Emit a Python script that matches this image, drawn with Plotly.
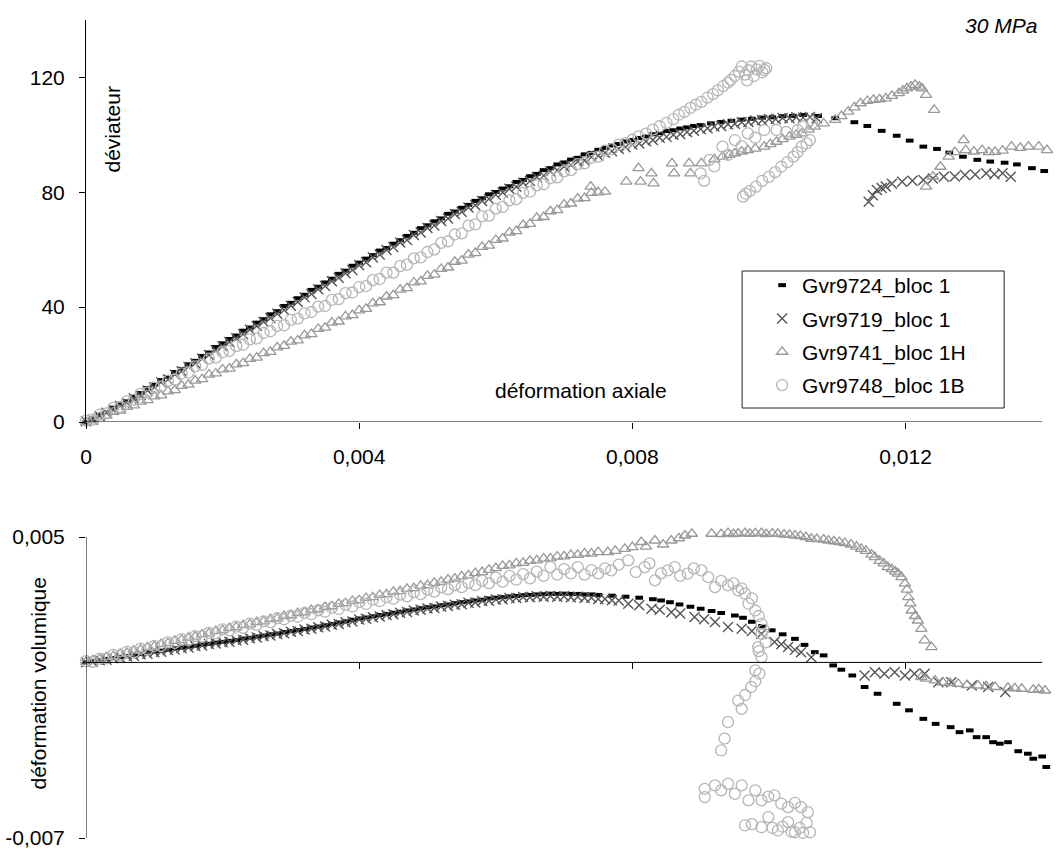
import plotly.graph_objects as go

# ---------------- data (axial / volumetric strain stored in per-mille, converted below) ----------
axial_grid = [0.0, 0.1, 0.2, 0.3, 0.4, 0.5, 0.6, 0.7, 0.8, 0.9,
              1.0, 1.1, 1.2, 1.3, 1.4, 1.5, 1.6, 1.7, 1.8, 1.9,
              2.0, 2.1, 2.2, 2.3, 2.4, 2.5, 2.6, 2.7, 2.8, 2.9,
              3.0, 3.1, 3.2, 3.3, 3.4, 3.5, 3.6, 3.7, 3.8, 3.9,
              4.0, 4.1, 4.2, 4.3, 4.4, 4.5, 4.6, 4.7, 4.8, 4.9,
              5.0, 5.1, 5.2, 5.3, 5.4, 5.5, 5.6, 5.7, 5.8, 5.9,
              6.0, 6.1, 6.2, 6.3, 6.4, 6.5, 6.6, 6.7, 6.8, 6.9,
              7.0, 7.1, 7.2, 7.3, 7.4, 7.5]

# --- Gvr9724_bloc 1 ---
q_9724_grid = [0.0, 1.0, 2.5, 3.4, 5.0, 6.1, 7.2, 8.9, 10.1, 11.8,
               13.0, 14.6, 15.7, 17.4, 18.5, 20.1, 21.3, 23.0, 24.2, 26.1,
               27.4, 28.9, 30.1, 31.8, 32.9, 34.6, 35.8, 37.5, 38.6, 40.4,
               41.5, 43.1, 44.3, 46.0, 47.1, 48.6, 49.9, 51.6, 52.7, 54.4,
               55.5, 56.9, 58.1, 59.7, 60.6, 62.1, 63.3, 64.8, 65.9, 67.5,
               68.5, 69.9, 70.9, 72.5, 73.3, 74.6, 75.6, 77.0, 77.9, 79.3,
               80.1, 81.3, 82.1, 83.6, 84.3, 85.6, 86.4, 87.7, 88.4, 89.7,
               90.4, 91.4, 92.0, 93.2, 93.7, 94.8]
ev_9724_grid = [0.00, 0.05, 0.08, 0.14, 0.17, 0.22, 0.25, 0.31, 0.34, 0.40,
                0.43, 0.47, 0.50, 0.56, 0.59, 0.63, 0.66, 0.71, 0.74, 0.79,
                0.82, 0.86, 0.89, 0.95, 0.98, 1.03, 1.07, 1.12, 1.15, 1.21,
                1.25, 1.29, 1.33, 1.39, 1.43, 1.48, 1.53, 1.59, 1.64, 1.70,
                1.75, 1.79, 1.84, 1.89, 1.93, 1.98, 2.02, 2.07, 2.11, 2.16,
                2.20, 2.23, 2.28, 2.31, 2.36, 2.40, 2.43, 2.47, 2.50, 2.55,
                2.58, 2.60, 2.63, 2.65, 2.68, 2.69, 2.71, 2.72, 2.74, 2.73,
                2.74, 2.73, 2.73, 2.71, 2.71, 2.69]
tail_q_axial_9724 = [7.6, 7.7, 7.8, 7.9, 8.0, 8.1, 8.2, 8.3, 8.4, 8.5, 8.6, 8.7, 8.8, 8.9, 9.0,
                     9.15, 9.3, 9.45, 9.6, 9.75, 9.9, 10.05, 10.2, 10.35, 10.5, 10.72, 10.97,
                     11.25, 11.44, 11.65, 11.87, 12.06, 12.26, 12.46, 12.64, 12.84,
                     13.05, 13.24, 13.45, 13.63, 13.85, 14.03]
tail_q_9724 = [95.4, 96.3, 96.8, 97.7, 98.2, 98.9, 99.4, 100.2, 100.6, 101.3, 101.6, 102.2, 102.6, 103.1, 103.4,
               104.0, 104.5, 104.9, 105.3, 105.6, 106.0, 106.1, 106.5, 106.6, 106.9, 106.6, 105.8,
               104.4, 103.1, 101.4, 99.7, 98.0, 95.9, 95.1, 93.8, 92.4,
               91.3, 90.7, 90.3, 89.7, 88.4, 87.4]
tail_v_axial_9724 = [7.7, 7.9, 8.1, 8.3, 8.42, 8.55, 8.69, 8.85, 9.0, 9.16,
                     9.3, 9.5, 9.62, 9.75, 9.9, 10.04, 10.2, 10.38, 10.52, 10.67,
                     10.8, 10.94, 11.06, 11.22, 11.4, 11.59, 11.87, 12.05, 12.26, 12.44,
                     12.66, 12.79, 12.94, 13.04, 13.18, 13.28, 13.38, 13.5, 13.65, 13.79,
                     13.87, 14.0, 14.06]
tail_ev_9724 = [2.66, 2.62, 2.58, 2.52, 2.47, 2.40, 2.31, 2.22, 2.14, 2.05,
                1.97, 1.87, 1.78, 1.62, 1.45, 1.28, 1.12, 0.94, 0.70, 0.41,
                0.28, -0.12, -0.29, -0.52, -0.98, -1.25, -1.65, -1.91, -2.25, -2.45,
                -2.58, -2.78, -2.71, -2.98, -2.98, -3.18, -3.24, -3.18, -3.54, -3.64,
                -3.84, -3.75, -4.17]

# --- Gvr9719_bloc 1 ---
q_9719_grid = [0.3, 0.8, 2.0, 3.2, 4.2, 5.6, 6.6, 8.2, 9.3, 11.0,
               12.1, 13.8, 14.8, 16.5, 17.7, 19.2, 20.5, 22.0, 23.3, 25.0,
               26.4, 27.9, 29.2, 30.6, 32.1, 33.4, 34.9, 36.2, 37.7, 39.0,
               40.5, 41.8, 43.4, 44.6, 46.2, 47.4, 49.0, 50.2, 51.8, 52.9,
               54.6, 55.6, 57.3, 58.3, 59.9, 60.9, 62.5, 63.4, 65.1, 66.0,
               67.6, 68.4, 70.0, 70.9, 72.4, 73.2, 74.7, 75.5, 77.0, 77.7,
               79.1, 79.9, 81.2, 81.9, 83.3, 83.9, 85.3, 85.8, 87.2, 87.7,
               89.0, 89.5, 90.7, 91.1, 92.3, 92.7]
ev_9719_grid = [0.01, 0.03, 0.09, 0.11, 0.17, 0.19, 0.25, 0.27, 0.33, 0.35,
                0.41, 0.43, 0.49, 0.51, 0.57, 0.59, 0.65, 0.67, 0.73, 0.75,
                0.80, 0.82, 0.88, 0.90, 0.96, 0.99, 1.05, 1.07, 1.13, 1.16,
                1.22, 1.25, 1.31, 1.34, 1.40, 1.43, 1.50, 1.53, 1.60, 1.63,
                1.71, 1.74, 1.80, 1.83, 1.89, 1.92, 1.98, 2.01, 2.07, 2.10,
                2.15, 2.17, 2.23, 2.25, 2.30, 2.32, 2.38, 2.39, 2.45, 2.46,
                2.51, 2.52, 2.57, 2.57, 2.61, 2.60, 2.64, 2.62, 2.65, 2.62,
                2.64, 2.60, 2.62, 2.57, 2.58, 2.53]
tail_q_axial_9719 = [7.6, 7.7, 7.8, 7.9, 8.0, 8.1, 8.2, 8.3, 8.4, 8.5, 8.6, 8.7, 8.8, 8.9, 9.0, 9.1,
                     9.2, 9.3, 9.4, 9.5, 9.6, 9.7, 9.8, 9.9, 10.0, 10.1, 10.2, 10.3, 10.4, 10.5, 10.6, 10.7,
                     11.46, 11.52, 11.58, 11.65, 11.71, 11.8, 11.95, 12.1, 12.26, 12.4, 12.56, 12.72,
                     12.87, 13.02, 13.18, 13.3, 13.42, 13.54]
tail_q_9719 = [93.8, 94.3, 95.2, 95.7, 96.6, 97.0, 97.8, 98.2, 99.0, 99.3, 100.0, 100.3, 101.0, 101.4, 102.0, 102.3,
               102.9, 103.1, 103.7, 103.9, 104.4, 104.5, 105.0, 105.1, 105.5, 105.5, 105.9, 105.8, 106.1, 106.0, 106.2, 105.8,
               76.7, 79.0, 80.8, 81.5, 82.0, 83.0, 83.7, 84.0, 84.3, 84.8, 85.4, 85.5,
               86.0, 86.2, 86.6, 86.3, 86.6, 85.4]
tail_v_axial_9719 = [7.6, 7.7, 7.8, 7.94, 8.1, 8.28, 8.4, 8.57, 8.7, 8.91,
                     9.05, 9.21, 9.4, 9.6, 9.75, 9.89, 10.08, 10.18, 10.28, 10.38, 10.47, 10.62,
                     11.4, 11.55, 11.69, 11.84, 11.99, 12.13, 12.28, 12.48, 12.67, 12.97, 13.21, 13.46]
tail_ev_9719 = [2.53, 2.48, 2.47, 2.34, 2.28, 2.14, 2.10, 2.00, 1.95, 1.81,
                1.72, 1.61, 1.41, 1.34, 1.25, 1.14, 0.81, 0.72, 0.61, 0.50, 0.41, 0.21,
                -0.52, -0.39, -0.45, -0.39, -0.52, -0.45, -0.45, -0.79, -0.79, -0.92, -0.98, -1.18]

# --- Gvr9741_bloc 1H ---
q_9741_grid = [0.0, 0.6, 1.8, 2.2, 3.5, 4.0, 5.3, 5.8, 7.1, 7.6,
               8.9, 9.3, 10.7, 11.1, 12.6, 13.0, 14.4, 14.9, 16.5, 16.9,
               18.3, 18.6, 20.1, 20.5, 22.0, 22.4, 24.0, 24.4, 26.0, 26.5,
               28.0, 28.4, 30.2, 30.6, 32.4, 32.9, 34.6, 35.0, 36.8, 37.2,
               38.9, 39.4, 41.3, 41.7, 43.7, 44.2, 46.1, 46.6, 48.6, 49.0,
               50.9, 51.3, 53.3, 53.8, 55.8, 56.2, 58.3, 58.8, 61.0, 61.4,
               63.4, 63.9, 66.0, 66.5, 68.6, 69.0, 71.1, 71.4, 73.4, 73.8,
               75.7, 76.1, 77.8, 78.0, 79.8, 80.0]
ev_9741_grid = [0.02, 0.08, 0.12, 0.21, 0.25, 0.34, 0.38, 0.47, 0.51, 0.60,
                0.64, 0.73, 0.77, 0.86, 0.90, 0.99, 1.03, 1.12, 1.16, 1.25,
                1.29, 1.37, 1.41, 1.49, 1.52, 1.61, 1.64, 1.73, 1.76, 1.85,
                1.88, 1.97, 2.00, 2.09, 2.12, 2.21, 2.24, 2.33, 2.36, 2.45,
                2.48, 2.57, 2.60, 2.69, 2.72, 2.81, 2.84, 2.93, 2.96, 3.05,
                3.08, 3.17, 3.21, 3.30, 3.34, 3.43, 3.47, 3.56, 3.60, 3.69,
                3.76, 3.85, 3.87, 3.95, 3.97, 4.05, 4.07, 4.14, 4.15, 4.22,
                4.23, 4.29, 4.29, 4.35, 4.34, 4.40]
tail_q_axial_9741 = [7.39, 7.6, 7.91, 8.09, 8.12, 8.28, 8.31, 8.58, 8.61, 8.83,
                     8.85, 9.01, 9.2, 9.32, 9.42, 9.5, 9.6, 9.69, 9.8, 9.93,
                     10.02, 10.11, 10.2, 10.3, 10.4, 10.48, 10.58, 10.67, 10.8, 10.97,
                     11.06, 11.16, 11.25, 11.34, 11.44, 11.53, 11.62, 11.71, 11.8, 11.9,
                     11.96, 12.02, 12.08, 12.14, 12.2, 12.24, 12.3, 12.42, 12.3, 12.4,
                     12.51, 12.63, 12.72, 12.85, 12.88, 13.0, 13.12, 13.22, 13.31, 13.42,
                     13.55, 13.68, 13.8, 13.95, 14.07]
tail_q_9741 = [82.0, 80.2, 83.7, 88.4, 83.7, 86.6, 83.1, 90.1, 86.6, 90.1,
               86.6, 90.1, 91.5, 92.4, 93.0, 93.6, 94.2, 94.7, 95.2, 95.9,
               96.8, 97.6, 98.5, 99.4, 100.0, 100.5, 101.8, 102.9, 104.0, 105.2,
               106.5, 108.1, 109.6, 111.0, 111.8, 112.2, 112.4, 112.7, 113.6, 114.5,
               115.4, 116.2, 116.8, 117.4, 116.8, 116.2, 113.9, 108.7, 82.0, 85.5,
               88.9, 92.4, 94.0, 98.2, 94.7, 94.2, 94.7, 94.0, 94.1, 94.5,
               95.9, 95.5, 95.9, 95.9, 94.7]
tail_v_axial_9741 = [7.64, 7.75, 7.89, 8.0, 8.13, 8.2, 8.33, 8.45, 8.57, 8.68,
                     8.77, 8.87, 9.16, 9.3, 9.4, 9.48, 9.55, 9.65, 9.72, 9.8,
                     9.89, 9.96, 10.05, 10.13, 10.22, 10.3, 10.38, 10.46, 10.54, 10.62,
                     10.7, 10.8, 10.87, 10.95, 11.03, 11.11, 11.2, 11.28, 11.35, 11.42,
                     11.5, 11.55, 11.62, 11.68, 11.74, 11.8, 11.85, 11.89, 11.94, 11.99,
                     12.02, 12.04, 12.07, 12.09, 12.14, 12.18, 12.23, 12.28, 12.38, 12.23,
                     12.3, 12.43, 12.55, 12.65, 12.77, 12.9, 13.06, 13.18, 13.31, 13.5,
                     13.6, 13.7, 13.87, 13.95, 14.04]
tail_ev_9741 = [4.40, 4.45, 4.53, 4.60, 4.80, 4.62, 4.86, 4.70, 4.86, 4.95,
                5.06, 5.13, 5.13, 5.12, 5.16, 5.12, 5.14, 5.16, 5.13, 5.15,
                5.16, 5.12, 5.14, 5.13, 5.10, 5.09, 5.06, 5.04, 5.00, 4.93,
                4.92, 4.90, 4.86, 4.83, 4.80, 4.76, 4.70, 4.62, 4.53, 4.45,
                4.30, 4.20, 4.05, 3.95, 3.80, 3.72, 3.62, 3.54, 3.40, 3.14,
                2.90, 2.60, 2.35, 2.07, 1.85, 1.67, 1.34, 0.88, 0.61, -0.59,
                -0.65, -0.72, -0.80, -0.82, -0.85, -0.90, -0.92, -0.95, -0.98, -1.01,
                -1.03, -1.05, -1.09, -1.07, -1.12]

# --- Gvr9748_bloc 1B ---
q_9748_grid = [0.5, 0.8, 2.6, 3.0, 4.9, 5.3, 7.3, 7.7, 9.8, 10.2,
               12.0, 12.4, 14.3, 14.8, 16.9, 17.2, 19.4, 19.9, 22.1, 22.4,
               24.3, 24.8, 26.4, 26.9, 28.8, 29.1, 31.0, 31.6, 33.5, 33.7,
               35.6, 36.0, 37.8, 38.3, 40.2, 40.4, 42.5, 42.8, 44.9, 45.1,
               47.0, 47.3, 49.4, 49.8, 52.0, 52.0, 54.3, 54.8, 57.0, 57.3,
               59.2, 60.1, 62.4, 62.9, 65.3, 65.7, 68.4, 68.8, 71.6, 71.9,
               74.3, 74.9, 77.2, 77.6, 79.8, 80.2, 82.4, 82.8, 84.9, 85.2,
               87.3, 87.7, 89.8, 90.1, 92.1, 92.4]
ev_9748_grid = [0.05, 0.02, 0.15, 0.16, 0.30, 0.28, 0.42, 0.40, 0.55, 0.52,
                0.66, 0.65, 0.80, 0.78, 0.93, 0.90, 1.05, 1.04, 1.18, 1.16,
                1.32, 1.28, 1.43, 1.38, 1.55, 1.50, 1.64, 1.60, 1.76, 1.72,
                1.86, 1.82, 1.97, 1.92, 2.08, 2.02, 2.18, 2.13, 2.29, 2.23,
                2.40, 2.33, 2.50, 2.44, 2.60, 2.54, 2.70, 2.63, 2.80, 2.72,
                2.90, 2.82, 2.99, 2.92, 3.08, 3.00, 3.17, 3.08, 3.26, 3.16,
                3.38, 3.22, 3.45, 3.30, 3.52, 3.35, 3.62, 3.45, 3.80, 3.50,
                3.72, 3.55, 3.80, 3.50, 3.68, 3.55]
tail_q_axial_9748 = [7.6, 7.7, 7.8, 7.9, 8.0, 8.09, 8.2, 8.3, 8.4, 8.5,
                     8.6, 8.68, 8.76, 8.85, 8.93, 9.01, 9.1, 9.18, 9.25, 9.33,
                     9.4, 9.44, 9.5, 9.56, 9.6, 9.65, 9.7, 9.74, 9.78, 9.82,
                     9.86, 9.9, 9.93, 9.96, 9.68,
                     9.0, 9.05, 9.13, 9.2, 9.32, 9.4, 9.5, 9.6, 9.69, 9.8, 9.93, 10.11, 10.25, 10.42, 10.5, 10.63,
                     9.62, 9.66, 9.72, 9.81, 9.9, 10.0, 10.09, 10.18, 10.27, 10.36, 10.42, 10.48, 10.55, 10.6]
tail_q_9748 = [94.5, 95.0, 96.6, 97.1, 98.3, 99.5, 100.4, 101.8, 103.0, 104.2,
               105.5, 107.0, 108.0, 109.4, 110.5, 111.5, 113.0, 114.2, 115.5, 117.0,
               118.2, 119.1, 120.5, 122.0, 123.8, 121.0, 122.5, 123.8, 120.5, 122.8,
               124.0, 121.8, 122.6, 123.2, 119.0,
               86.6, 84.0, 91.3, 89.0, 95.9, 93.0, 98.2, 96.0, 100.5, 99.0, 101.7, 101.7, 101.0, 101.7, 103.0, 104.0,
               78.5, 79.5, 80.5, 82.0, 84.0, 85.4, 87.0, 88.9, 90.5, 92.4, 94.0, 95.9, 97.0, 98.2]
tail_v_axial_9748 = [7.6, 7.69, 7.8, 7.94, 8.05, 8.18, 8.25, 8.33, 8.42, 8.52,
                     8.62, 8.7, 8.81, 8.9, 9.01, 9.11, 9.21, 9.3, 9.4, 9.48,
                     9.55, 9.6, 9.65, 9.7, 9.75, 9.8, 9.85, 9.89, 9.92, 9.89,
                     9.84, 9.95, 9.89, 9.85, 9.8, 9.86, 9.74, 9.8, 9.55, 9.65,
                     9.6, 9.4, 9.35, 9.3,
                     9.06, 9.06, 9.21, 9.3, 9.4, 9.5, 9.6, 9.7, 9.8, 9.89, 9.99, 10.08, 10.18, 10.28, 10.38, 10.47, 10.57,
                     9.65, 9.75, 9.89, 9.99, 10.05, 10.13, 10.2, 10.28, 10.33, 10.38, 10.45, 10.5, 10.6, 10.55]
tail_ev_9748 = [3.75, 3.67, 3.90, 4.07, 3.60, 3.80, 3.95, 3.27, 3.55, 3.67,
                3.80, 3.45, 3.54, 3.75, 3.67, 3.40, 3.00, 3.25, 3.07, 3.15,
                2.87, 2.95, 2.74, 2.34, 2.55, 2.07, 1.85, 1.54, 1.30, 1.14,
                0.61, 0.80, 0.21, 0.45, -0.32, -0.45, -0.98, -0.75, -1.52, -1.30,
                -1.85, -2.38, -3.04, -3.51,
                -5.04, -5.37, -4.90, -5.10, -4.84, -5.24, -4.90, -5.50, -5.10, -5.50, -5.35, -5.30, -5.63, -5.77, -5.60, -5.77, -5.97,
                -6.50, -6.45, -6.57, -6.17, -6.60, -6.70, -6.55, -6.37, -6.75, -6.77, -6.60, -6.80, -6.77, -6.40]

series_names = ["Gvr9724_bloc 1", "Gvr9719_bloc 1", "Gvr9741_bloc 1H", "Gvr9748_bloc 1B"]

x_tickvals = [0, 0.004, 0.008, 0.012]
x_ticktext = ["0", "0,004", "0,008", "0,012"]
q_tickvals = [0, 40, 80, 120]
q_ticktext = ["0", "40", "80", "120"]
ev_tickvals = [-0.007, 0.005]
ev_ticktext = ["-0,007", "0,005"]
x_axis_end = 0.014          # where the drawn axis lines stop
q_range = [0, 140]
ev_axis = [-0.007, 0.005]   # extent of the drawn volumetric axis line

# ---------------- assembling ----------------
PERMIL = 1e-3


def to_strain(values):
    return [v * PERMIL for v in values]


series = [
    (q_9724_grid, ev_9724_grid, tail_q_axial_9724, tail_q_9724, tail_v_axial_9724, tail_ev_9724),
    (q_9719_grid, ev_9719_grid, tail_q_axial_9719, tail_q_9719, tail_v_axial_9719, tail_ev_9719),
    (q_9741_grid, ev_9741_grid, tail_q_axial_9741, tail_q_9741, tail_v_axial_9741, tail_ev_9741),
    (q_9748_grid, ev_9748_grid, tail_q_axial_9748, tail_q_9748, tail_v_axial_9748, tail_ev_9748),
]
for s in series:
    assert len(s[0]) == len(axial_grid) and len(s[1]) == len(axial_grid)
    assert len(s[2]) == len(s[3]) and len(s[4]) == len(s[5])

styles = [
    dict(symbol="line-ew-open", size=5.5, color="#000000", line=dict(width=4)),
    dict(symbol="x-thin-open", size=10, color="#555555", line=dict(width=1.4)),
    dict(symbol="triangle-up-open", size=10, color="#999999", line=dict(width=1.3)),
    dict(symbol="circle-open", size=11, color="#b6b6b6", line=dict(width=1.3)),
]

fig = go.Figure()
for i, (name, s, st) in enumerate(zip(series_names, series, styles)):
    qg, evg, tqa, tq, tva, tev = s
    fig.add_trace(go.Scatter(
        x=to_strain(axial_grid + tqa), y=qg + tq, mode="markers", name=name,
        legendgroup=f"g{i}", marker=st, cliponaxis=False, xaxis="x", yaxis="y"))
for i, (name, s, st) in enumerate(zip(series_names, series, styles)):
    qg, evg, tqa, tq, tva, tev = s
    fig.add_trace(go.Scatter(
        x=to_strain(axial_grid + tva), y=to_strain(evg + tev), mode="markers", name=name,
        legendgroup=f"g{i}", showlegend=False, marker=st, cliponaxis=False, xaxis="x2", yaxis="y2"))

FONT = "Liberation Sans, Arial, sans-serif"
W, H = 1056, 850
ML, MT, MB = 86, 20, 12
PX_X_END = 1042             # pixel where strain 0.014 sits
px_per_x = (PX_X_END - ML) / x_axis_end
x_range = [0, 0.0141]       # a bit of room so the last partly-outside markers still show
MR = W - ML - px_per_x * x_range[1]

# vertical pixel layout of the two panels
plot_h = H - MT - MB
top_px = (20, 422)
bot_ev_px = (537, 838)       # pixel of +0.005 and -0.007
px_per_ev = (bot_ev_px[1] - bot_ev_px[0]) / (ev_axis[1] - ev_axis[0])
ev_range = [ev_axis[0], 0.0052]
bot_top_px = bot_ev_px[1] - px_per_ev * (ev_range[1] - ev_range[0])


def py(px):
    return (H - MB - px) / plot_h


def pxx(px):
    return (px - ML) / (W - ML - MR)


top_dom = [py(top_px[1]), py(top_px[0])]
bot_dom = [py(bot_ev_px[1]), py(bot_top_px)]
zero_pos = bot_dom[0] + (0 - ev_range[0]) / (ev_range[1] - ev_range[0]) * (bot_dom[1] - bot_dom[0])

axis_common = dict(showgrid=False, zeroline=False, ticks="outside", ticklen=6, tickwidth=1,
                   tickcolor="#000000", tickfont=dict(size=21, family=FONT, color="#000000"))
line_style = dict(color="#000000", width=1)

fig.update_layout(
    width=W, height=H,
    margin=dict(l=ML, r=MR, t=MT, b=MB, autoexpand=False),
    paper_bgcolor="white", plot_bgcolor="white",
    font=dict(family=FONT, size=21, color="#000000"),
    separators=", ",
    xaxis=dict(domain=[0, 1], range=x_range, anchor="y", tickvals=x_tickvals, ticktext=x_ticktext,
               showline=False, ticklabelstandoff=10, **axis_common),
    yaxis=dict(domain=top_dom, range=q_range, anchor="x", tickvals=q_tickvals, ticktext=q_ticktext,
               showline=True, linecolor="#000000", linewidth=1, ticklabelstandoff=10, **axis_common),
    xaxis2=dict(domain=[0, 1], range=x_range, anchor="free", position=zero_pos,
                tickvals=x_tickvals[1:], showticklabels=False, showline=False, **axis_common),
    yaxis2=dict(domain=bot_dom, range=ev_range, anchor="x2", tickvals=ev_tickvals, ticktext=ev_ticktext,
                showline=False, ticklabelstandoff=10, **axis_common),
    showlegend=True,
    legend=dict(x=pxx(762), y=py(265), xanchor="left", yanchor="top", bgcolor="rgba(0,0,0,0)",
                borderwidth=0, font=dict(size=21, family=FONT, color="#000000"),
                tracegroupgap=3, traceorder="grouped"),
    shapes=[
        # axis lines (drawn only over the nominal extent)
        dict(type="line", xref="x", yref="y", x0=0, x1=x_axis_end, y0=0, y1=0, line=line_style),
        dict(type="line", xref="x2", yref="y2", x0=0, x1=x_axis_end, y0=0, y1=0, line=line_style),
        dict(type="line", xref="x2", yref="y2", x0=0, x1=0, y0=ev_axis[0], y1=ev_axis[1], line=line_style),
        # legend frame
        dict(type="rect", xref="paper", yref="paper", x0=pxx(742), x1=pxx(1004), y0=py(408), y1=py(271),
             line=dict(color="#222222", width=1), fillcolor="rgba(0,0,0,0)"),
    ],
    annotations=[
        dict(text="<i>30 MPa</i>", x=pxx(1039), y=py(26), xref="paper", yref="paper",
             xanchor="right", yanchor="middle", showarrow=False, font=dict(size=21)),
        dict(text="déviateur", x=pxx(111.5), y=py(130), xref="paper", yref="paper", textangle=-90,
             xanchor="center", yanchor="middle", showarrow=False, font=dict(size=21)),
        dict(text="déformation axiale", x=pxx(581), y=py(390), xref="paper", yref="paper",
             xanchor="center", yanchor="middle", showarrow=False, font=dict(size=21)),
        dict(text="déformation volumique", x=pxx(38.5), y=py(683), xref="paper", yref="paper", textangle=-90,
             xanchor="center", yanchor="middle", showarrow=False, font=dict(size=21)),
    ],
)

fig.write_html("out.html", config={"displayModeBar": False},
               post_script="document.body.style.margin='0px';")
